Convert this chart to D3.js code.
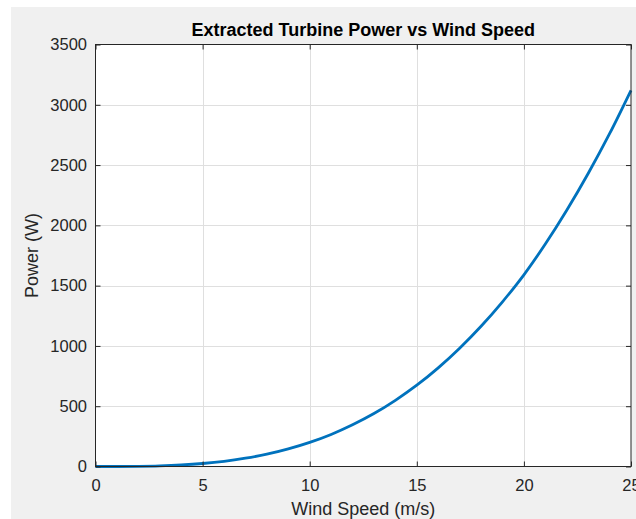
<!DOCTYPE html>
<html>
<head>
<meta charset="utf-8">
<script src="https://cdn.jsdelivr.net/npm/d3@7"></script>
<style>
  html, body { margin: 0; padding: 0; background: #fff; }
  svg { display: block; }
  text { font-family: "Liberation Sans", Arial, Helvetica, sans-serif; fill: #262626; }
</style>
</head>
<body>
<div id="chart"></div>
<script>
// Données : vitesse du vent (m/s) et puissance extraite (W)
const windSpeed = [0, 1, 2, 3, 4, 5, 6, 7, 8, 9, 10, 11, 12, 13, 14, 15, 16, 17, 18, 19, 20, 21, 22, 23, 24, 25];
const power = [0, 0.2, 1.6, 5.4, 12.8, 25, 43, 69, 102, 146, 200, 266, 346, 439, 549, 674, 818, 981, 1163, 1366, 1590, 1845, 2125, 2430, 2760, 3120];
const xTicks = [0, 5, 10, 15, 20, 25];
const yTicks = [0, 500, 1000, 1500, 2000, 2500, 3000, 3500];

const width = 636, height = 519;
const mLeft = 95.5, mRight = 631, mTop = 44.5, mBottom = 466.5;

const svg = d3.select("#chart")
    .append("svg")
    .attr("width", width)
    .attr("height", height);

// Fond gris de la figure
svg.append("rect")
    .attr("x", 11).attr("y", 7)
    .attr("width", width - 11).attr("height", height - 7)
    .attr("fill", "#f0f0f0");

// Zone des axes
svg.append("rect")
    .attr("x", mLeft).attr("y", mTop)
    .attr("width", mRight - mLeft).attr("height", mBottom - mTop)
    .attr("fill", "#fff");

const x = d3.scaleLinear().domain([0, 25]).range([mLeft, mRight]);
const y = d3.scaleLinear().domain([0, 3500]).range([mBottom, mTop]);

// Grille
svg.append("g")
    .selectAll("line")
    .data(xTicks.slice(1, -1))
    .enter().append("line")
    .attr("x1", d => Math.round(x(d)) + 0.5).attr("x2", d => Math.round(x(d)) + 0.5)
    .attr("y1", mTop).attr("y2", mBottom)
    .attr("stroke", "#dfdfdf");

svg.append("g")
    .selectAll("line")
    .data(yTicks.slice(1, -1))
    .enter().append("line")
    .attr("y1", d => Math.round(y(d)) + 0.5).attr("y2", d => Math.round(y(d)) + 0.5)
    .attr("x1", mLeft).attr("x2", mRight)
    .attr("stroke", "#dfdfdf");

// Courbe
const line = d3.line()
    .x((d, i) => x(windSpeed[i]))
    .y(d => y(d))
    .curve(d3.curveMonotoneX);

svg.append("path")
    .datum(power)
    .attr("d", line)
    .attr("fill", "none")
    .attr("stroke", "#0072bd")
    .attr("stroke-width", 2.8);

// Axes (ticks vers l'intérieur, comme MATLAB)
const tickLen = 5;
const axisColor = "#262626";
const fmt = d3.format("d");

svg.append("g")
    .attr("transform", `translate(0,${mBottom})`)
    .call(d3.axisBottom(x).tickValues(xTicks).tickSize(-tickLen).tickPadding(12.5).tickFormat(fmt))
    .call(g => g.select(".domain").remove());

svg.append("g")
    .attr("transform", `translate(0,${mTop})`)
    .call(d3.axisTop(x).tickValues(xTicks).tickSize(-tickLen).tickFormat(""))
    .call(g => g.select(".domain").remove());

svg.append("g")
    .attr("transform", `translate(${mLeft},0)`)
    .call(d3.axisLeft(y).tickValues(yTicks).tickSize(-tickLen).tickPadding(8.5).tickFormat(fmt))
    .call(g => g.select(".domain").remove());

svg.append("g")
    .attr("transform", `translate(${mRight},0)`)
    .call(d3.axisRight(y).tickValues(yTicks).tickSize(-tickLen).tickFormat(""))
    .call(g => g.select(".domain").remove());

svg.selectAll(".tick line").attr("stroke", axisColor);
svg.selectAll(".tick text")
    .attr("font-size", 16.5)
    .attr("font-family", "Liberation Sans, Arial, sans-serif")
    .attr("fill", axisColor);

// Cadre
svg.append("rect")
    .attr("x", mLeft).attr("y", mTop)
    .attr("width", mRight - mLeft).attr("height", mBottom - mTop)
    .attr("fill", "none")
    .attr("stroke", axisColor)
    .attr("stroke-width", 1);

// Titres
svg.append("text")
    .attr("x", (mLeft + mRight) / 2).attr("y", 35.5)
    .attr("text-anchor", "middle")
    .attr("font-size", 18)
    .attr("font-weight", "bold")
    .style("fill", "#000")
    .text("Extracted Turbine Power vs Wind Speed");

svg.append("text")
    .attr("x", (mLeft + mRight) / 2).attr("y", 515)
    .attr("text-anchor", "middle")
    .attr("font-size", 18)
    .text("Wind Speed (m/s)");

svg.append("text")
    .attr("transform", `translate(38,${(mTop + mBottom) / 2}) rotate(-90)`)
    .attr("text-anchor", "middle")
    .attr("font-size", 18)
    .text("Power (W)");
</script>
</body>
</html>
